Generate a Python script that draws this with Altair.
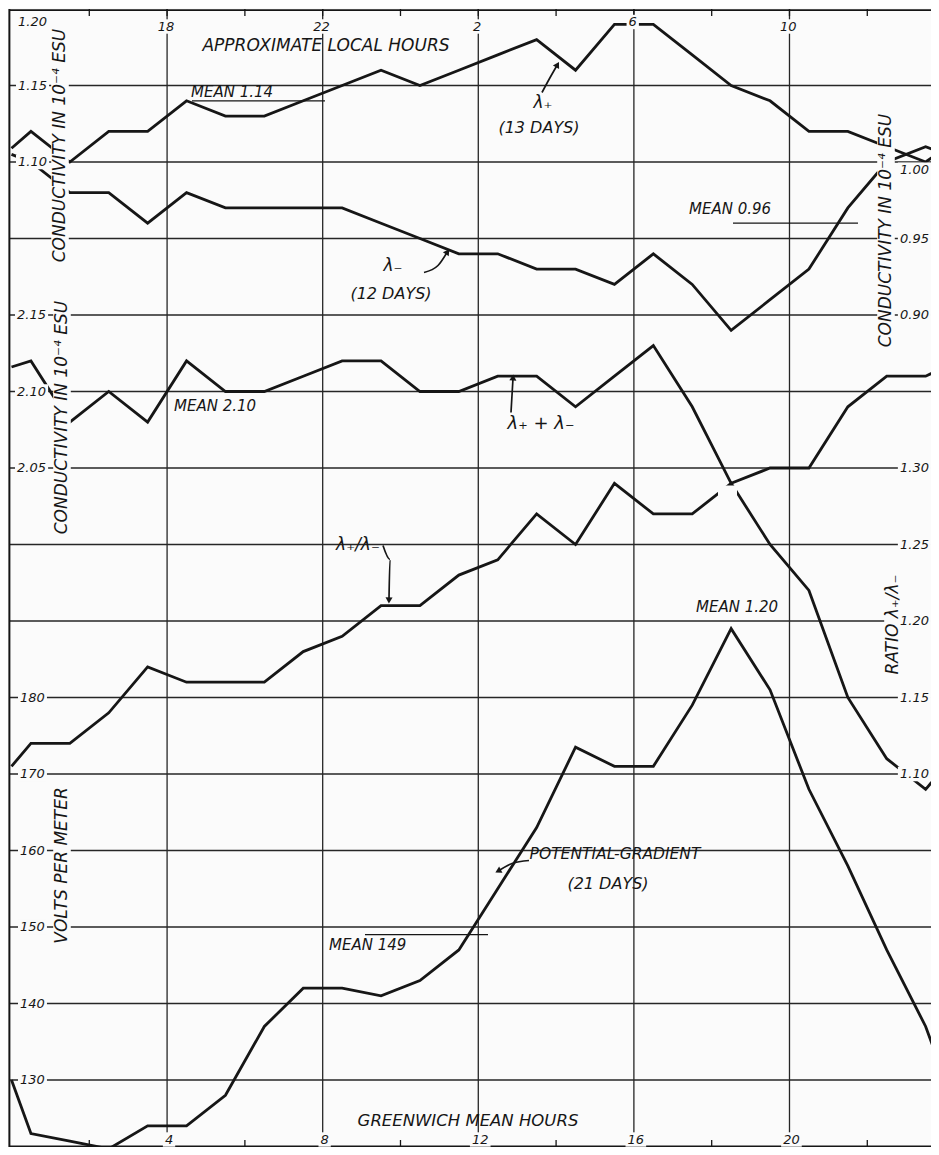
import math
import altair as alt
import pandas as pd

# ---------------- values ----------------
# GMT hours: hourly means plotted at the half hours; the curves run on to the frame at 0 h / 24 h
HOURS = [0.0] + [h + 0.5 for h in range(24)] + [24.0]

LAMBDA_PLUS = [1.109, 1.12, 1.10, 1.12, 1.12, 1.14, 1.13, 1.13, 1.14, 1.15, 1.16, 1.15, 1.16,
               1.17, 1.18, 1.16, 1.19, 1.19, 1.17, 1.15, 1.14, 1.12, 1.12, 1.11, 1.10, 1.109]
LAMBDA_MINUS = [1.005, 1.00, 0.98, 0.98, 0.96, 0.98, 0.97, 0.97, 0.97, 0.97, 0.96, 0.95, 0.94,
                0.94, 0.93, 0.93, 0.92, 0.94, 0.92, 0.89, 0.91, 0.93, 0.97, 1.00, 1.01, 1.005]
LAMBDA_SUM = [2.116, 2.12, 2.08, 2.10, 2.08, 2.12, 2.10, 2.10, 2.11, 2.12, 2.12, 2.10, 2.10,
              2.11, 2.11, 2.09, 2.11, 2.13, 2.09, 2.04, 2.05, 2.05, 2.09, 2.11, 2.11, 2.116]
RATIO = [1.105, 1.12, 1.12, 1.14, 1.17, 1.16, 1.16, 1.16, 1.18, 1.19, 1.21, 1.21, 1.23,
         1.24, 1.27, 1.25, 1.29, 1.27, 1.27, 1.29, 1.25, 1.22, 1.15, 1.11, 1.09, 1.105]
GRADIENT = [130, 123, 122, 121, 124, 124, 128, 137, 142, 142, 141, 143, 147,
            155, 163, 173.5, 171, 171, 179, 189, 181, 168, 158, 147, 137, 130]

MEAN_LAMBDA_PLUS = 1.14
MEAN_LAMBDA_MINUS = 0.96
MEAN_SUM = 2.10
MEAN_RATIO = 1.20
MEAN_GRADIENT = 149

GMT_GRID = [4, 8, 12, 16, 20]
GMT_LABELS = ["4", "8", "12", "16", "20"]
LOCAL_LABELS = ["18", "22", "2", "6", "10"]
MINOR_TICKS = [2, 6, 10, 14, 18, 22]

TICKS_LAMBDA_PLUS = [1.20, 1.15, 1.10]
TICKS_LAMBDA_MINUS = [1.00, 0.95, 0.90]
TICKS_SUM = [2.15, 2.10, 2.05]
TICKS_RATIO = [1.30, 1.25, 1.20, 1.15, 1.10]
TICKS_GRADIENT = [180, 170, 160, 150, 140, 130]

# each quantity is drawn on the common grid: value at the top grid line and value per grid division
SCALES = {"plus": (1.20, 0.05), "minus": (1.10, 0.05), "sum": (2.35, 0.05),
          "ratio": (1.60, 0.05), "grad": (270.0, 10.0)}

# ---------------- layout ----------------
PLOT_W, PLOT_H = 922, 1138
PX_PER_H = 38.9
PX_PER_K = 76.5
X0 = -0.064
X1 = X0 + PLOT_W / PX_PER_H
K0 = 0.0
KMAX = K0 + PLOT_H / PX_PER_K
INK = "#161616"
GRID = "#262626"
BG = "#fbfbfb"
FONT = "DejaVu Sans"


def hx(px):
    return (px - 11.5) / 38.9


def ky(py):
    return (py - 9.5) / 76.5


def kval(name, v):
    top, step = SCALES[name]
    return (top - v) / step


XS = alt.Scale(domain=[X0, X1], nice=False, zero=False)
YS = alt.Scale(domain=[K0, KMAX], reverse=True, nice=False, zero=False)


def X(f="h"):
    return alt.X(f"{f}:Q", scale=XS, axis=None)


def Y(f="k"):
    return alt.Y(f"{f}:Q", scale=YS, axis=None)


layers = []

# grid
layers.append(alt.Chart(pd.DataFrame({"k": list(range(1, 15))})).mark_rule(
    color=GRID, strokeWidth=1.3).encode(y=Y("k")))
layers.append(alt.Chart(pd.DataFrame({"h": GMT_GRID})).mark_rule(
    color=GRID, strokeWidth=1.3).encode(x=X("h")))
# frame
layers.append(alt.Chart(pd.DataFrame({"h": [X0 + 0.01]})).mark_rule(
    color=INK, strokeWidth=2).encode(x=X("h")))
layers.append(alt.Chart(pd.DataFrame({"k": [K0 + 0.015, KMAX - 0.01]})).mark_rule(
    color=INK, strokeWidth=1.6).encode(y=Y("k")))
# minor ticks top & bottom
tick_df = pd.DataFrame({"h": MINOR_TICKS + GMT_GRID})
layers.append(alt.Chart(tick_df).mark_rule(color=INK, strokeWidth=1.3).encode(
    x=X("h"), y=alt.value(0), y2=alt.value(7)))
layers.append(alt.Chart(tick_df).mark_rule(color=INK, strokeWidth=1.3).encode(
    x=X("h"), y=alt.value(PLOT_H - 7), y2=alt.value(PLOT_H)))


def series(values, name):
    top, step = SCALES[name]
    df = pd.DataFrame({"h": HOURS, "v": values})
    return alt.Chart(df).transform_calculate(
        k=f"({top} - datum.v) / {step}"
    ).mark_line(color=INK, strokeWidth=2.8, clip=True, strokeJoin="miter").encode(x=X("h"), y=Y("k"))


layers.append(series(RATIO, "ratio"))
# break of the ratio curve where it meets the sum curve
layers.append(alt.Chart(pd.DataFrame({"h1": [hx(718)], "h2": [hx(737)], "k1": [ky(486)], "k2": [ky(500)]}))
              .mark_rect(color=BG).encode(x=X("h1"), x2="h2", y=Y("k1"), y2="k2"))
for vals, nm in [(LAMBDA_PLUS, "plus"), (LAMBDA_MINUS, "minus"), (LAMBDA_SUM, "sum"), (GRADIENT, "grad")]:
    layers.append(series(vals, nm))

# mean lines
mean_df = pd.DataFrame({
    "h1": [hx(192), hx(733), hx(365)],
    "h2": [hx(325), hx(858), hx(488)],
    "k": [kval("plus", MEAN_LAMBDA_PLUS), kval("minus", MEAN_LAMBDA_MINUS), kval("grad", MEAN_GRADIENT)],
})
layers.append(alt.Chart(mean_df).mark_rule(color=INK, strokeWidth=1.3).encode(
    x=X("h1"), x2="h2", y=Y("k")))

# ---------------- texts ----------------
CW = {".": 0.32, " ": 0.32, "(": 0.39, ")": 0.39, "-": 0.36, "/": 0.34, "+": 0.84,
      "λ": 0.6, "₊": 0.45, "₋": 0.45, "⁻": 0.45, "⁴": 0.4, "I": 0.3}


def text_width(t, size):
    w = 0
    for c in t:
        if c.isdigit():
            w += 0.64
        else:
            w += CW.get(c, 0.70)
    return w * size


labels = []   # text, h, k, size, angle, align, box


def add(text, h, k, size=13, angle=0, align="center", box=True):
    labels.append(dict(text=text, h=h, k=k, size=size, angle=angle, align=align, box=box))


RIGHT_EDGE = 929
# left scales
for v in TICKS_LAMBDA_PLUS:
    k = kval("plus", v)
    add(f"{v:.2f}", hx(18), k + (0.17 if k < 0.5 else 0), align="left")
for v in TICKS_SUM:
    add(f"{v:.2f}", hx(17), kval("sum", v), align="left")
for v in TICKS_GRADIENT:
    add(f"{v}", hx(20), kval("grad", v), align="left")
# right scales
for v in TICKS_LAMBDA_MINUS:
    k = kval("minus", v)
    add(f"{v:.2f}", hx(RIGHT_EDGE), k + (0.1 if abs(v - 1.0) < 1e-9 else 0), align="right")
for v in TICKS_RATIO:
    add(f"{v:.2f}", hx(RIGHT_EDGE), kval("ratio", v), align="right")
# hour labels
for g, loc, gl in zip(GMT_GRID, LOCAL_LABELS, GMT_LABELS):
    add(loc, g - 0.03, ky(22.5) if loc == "6" else ky(27), size=13)
    add(gl, g + 0.05, ky(1140), size=13)

# axis titles and notes
add("APPROXIMATE LOCAL HOURS", hx(326), ky(46), size=17, box=False)
add("GREENWICH MEAN HOURS", hx(468), ky(1121), size=16.5, box=False)
add("CONDUCTIVITY IN 10⁻⁴ ESU", hx(60), ky(146), size=17, angle=270)
add("CONDUCTIVITY IN 10⁻⁴ ESU", hx(62), ky(418), size=17, angle=270)
add("CONDUCTIVITY IN 10⁻⁴ ESU", hx(886), ky(231), size=17, angle=270)
add("RATIO λ₊/λ₋", hx(893), ky(625), size=17, angle=270)
add("VOLTS PER METER", hx(62), ky(866), size=17, angle=270)
add("MEAN 1.14", hx(191), ky(92), size=15, align="left", box=False)
add("MEAN 0.96", hx(689), ky(209), size=15, align="left", box=False)
add("MEAN 2.10", hx(174), ky(406), size=15, align="left", box=False)
add("MEAN 1.20", hx(696), ky(607), size=15, align="left", box=False)
add("MEAN 149", hx(329), ky(945), size=15, align="left", box=False)
add("λ₊", hx(543), ky(103), size=17, box=False)
add("(13 DAYS)", hx(539), ky(128), size=16, box=False)
add("λ₋", hx(393), ky(266), size=17, box=False)
add("(12 DAYS)", hx(391), ky(294), size=16, box=False)
add("λ₊ + λ₋", hx(541), ky(424), size=18, box=False)
add("λ₊/λ₋", hx(358), ky(545), size=17, box=False)
add("POTENTIAL-GRADIENT", hx(615), ky(854), size=15.5, box=False)
add("(21 DAYS)", hx(608), ky(884), size=16, box=False)

lab_df = pd.DataFrame(labels)

# white breaks behind labels (lettering interrupts grid and curves)
boxes = []
for r in labels:
    if not r["box"]:
        continue
    w = text_width(r["text"], r["size"]) + 4
    hgt = 0.8 * r["size"] + 4
    if r["angle"] == 270:
        dx, dy = hgt, w
        cx, cy = r["h"], r["k"]
        boxes.append(dict(h1=cx - dx / 2 / PX_PER_H, h2=cx + dx / 2 / PX_PER_H,
                          k1=cy - dy / 2 / PX_PER_K, k2=cy + dy / 2 / PX_PER_K))
    else:
        if r["align"] == "left":
            a, b = r["h"] - 2 / PX_PER_H, r["h"] + (w - 2) / PX_PER_H
        elif r["align"] == "right":
            a, b = r["h"] - (w - 2) / PX_PER_H, r["h"] + 2 / PX_PER_H
        else:
            a, b = r["h"] - w / 2 / PX_PER_H, r["h"] + w / 2 / PX_PER_H
        boxes.append(dict(h1=a, h2=b, k1=r["k"] - hgt / 2 / PX_PER_K, k2=r["k"] + hgt / 2 / PX_PER_K))
layers.append(alt.Chart(pd.DataFrame(boxes)).mark_rect(color=BG).encode(
    x=X("h1"), x2="h2", y=Y("k1"), y2="k2"))

for al in ["left", "center", "right"]:
    sub = lab_df[lab_df["align"] == al]
    if len(sub) == 0:
        continue
    layers.append(alt.Chart(sub).mark_text(
        font=FONT, fontStyle="italic", color=INK, align=al, baseline="middle"
    ).encode(x=X("h"), y=Y("k"), text="text:N",
             size=alt.Size("size:Q", scale=None), angle=alt.Angle("angle:Q", scale=None)))

# ---------------- pointer arrows ----------------
ARROWS = {
    "plus": [(542, 93), (549, 80), (557, 66)],
    "minus": [(424, 273), (438, 266), (447, 253)],
    "sum": [(511, 413), (512, 396), (513, 379)],
    "ratio": [(383, 546), (390, 560), (389, 600)],
    "grad": [(529, 861), (512, 864), (499, 871)],
}
arow, heads = [], []
for name, pts in ARROWS.items():
    for i, (px, py) in enumerate(pts):
        arow.append(dict(id=name, i=i, h=hx(px), k=ky(py)))
    (x1, y1), (x2, y2) = pts[-2], pts[-1]
    ang = math.degrees(math.atan2(x2 - x1, -(y2 - y1))) % 360
    heads.append(dict(h=hx(x2), k=ky(y2), ang=ang))
layers.append(alt.Chart(pd.DataFrame(arow)).mark_line(
    color=INK, strokeWidth=1.7, interpolate="monotone").encode(
    x=X("h"), y=Y("k"), detail="id:N", order="i:Q"))
layers.append(alt.Chart(pd.DataFrame(heads)).mark_point(
    shape="triangle", filled=True, color=INK, opacity=1, size=50).encode(
    x=X("h"), y=Y("k"), angle=alt.Angle("ang:Q", scale=None)))

chart = alt.layer(*layers).properties(
    width=PLOT_W, height=PLOT_H, background=BG,
    padding={"left": 1, "top": 1, "right": 0, "bottom": 0},
    autosize=alt.AutoSizeParams(type="none"),
).configure_view(stroke=None)

chart.save("out.html", embed_options={"renderer": "svg", "actions": False})
